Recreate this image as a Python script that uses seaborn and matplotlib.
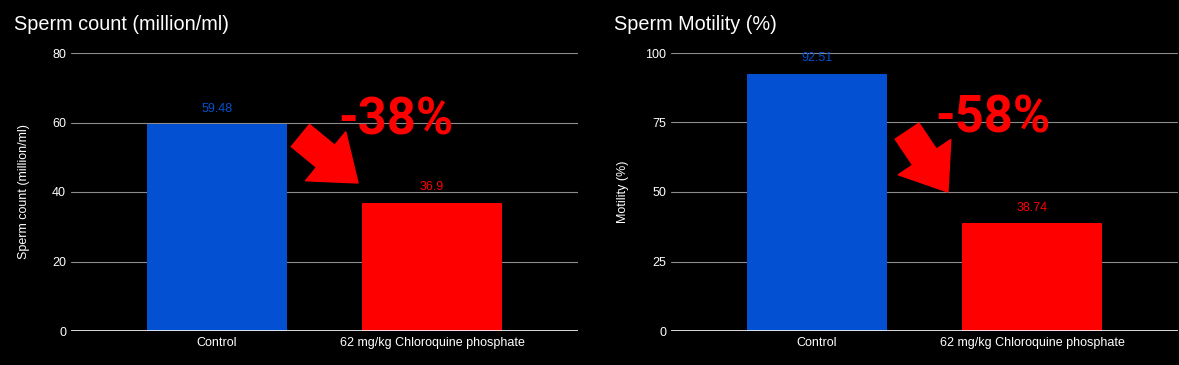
import seaborn as sns
import pandas as pd
import numpy as np
import matplotlib
matplotlib.use("Agg")
import matplotlib.pyplot as plt

# data
groups = ["Control", "62 mg/kg Chloroquine phosphate"]
count_vals = [59.48, 36.9]
motility_vals = [92.51, 38.74]
bar_colors = ["#0350d3", "#ff0000"]

sns.set_theme(style="dark")
plt.rcParams['font.family'] = ['Liberation Sans', 'DejaVu Sans']

fig = plt.figure(figsize=(11.79, 3.65), dpi=100, facecolor="black")


def draw_panel(ax, vals, ylabel, yticks, change, arrow_tail, arrow_tip, change_xy):
    df = pd.DataFrame({"group": groups, "value": vals})
    sns.barplot(data=df, x="group", y="value", hue="group", palette=bar_colors,
                width=0.651, saturation=1, legend=False, linewidth=0, ax=ax)
    ax.set_facecolor("black")
    ax.set_xlim(-0.679, 1.679)
    ax.set_ylim(0, yticks[-1])
    ax.set_yticks(yticks)
    for t in yticks[1:]:
        ax.axhline(t, color="#8c8c8c", lw=0.8, zorder=0)
    ax.axhline(0, color="white", lw=1.2, zorder=3)
    for s in ax.spines.values():
        s.set_visible(False)
    ax.grid(False)
    ax.tick_params(axis="y", colors="white", labelsize=9, length=0, pad=3.5)
    ax.tick_params(axis="x", colors="white", labelsize=9, length=0, pad=4)
    ax.set_xlabel("")
    ax.set_ylabel(ylabel, color="white", fontsize=9)
    # value labels
    for cont, c in zip(ax.containers, bar_colors):
        ax.bar_label(cont, labels=[f"{v:g}" for v in cont.datavalues],
                     color=c, fontsize=9, padding=7)
    # big arrow + percent change
    ax.annotate("", xy=arrow_tip, xytext=arrow_tail,
                arrowprops=dict(arrowstyle="simple,head_length=1.26,head_width=1.9,tail_width=0.86",
                                color="#ff0000", mutation_scale=24, shrinkA=0, shrinkB=0))
    ax.text(change_xy[0], change_xy[1], change, color="#ff0000", fontsize=36.5,
            fontweight="bold", ha="center", va="center",
            family=["Roboto", "DejaVu Sans"])


ax1 = fig.add_axes([71 / 1179, 34 / 365, 507 / 1179, 278 / 365])
draw_panel(ax1, count_vals, "Sperm count (million/ml)",
           [0, 20, 40, 60, 80], "-38%", (0.388, 56.25), (0.656, 42.6), (0.83, 60.7))
ax1.yaxis.set_label_coords(-0.081, 0.5)

ax2 = fig.add_axes([671 / 1179, 34 / 365, 507 / 1179, 278 / 365])
draw_panel(ax2, motility_vals, "Motility (%)",
           [0, 25, 50, 75, 100], "-58%", (0.419, 71.9), (0.609, 50.0), (0.82, 76.6))
ax2.yaxis.set_label_coords(-0.083, 0.5)

fig.text(14 / 1179, 1 - 25 / 365, "Sperm count (million/ml)", color="white",
         fontsize=14.3, va="center", ha="left")
fig.text(614 / 1179, 1 - 25 / 365, "Sperm Motility (%)", color="white",
         fontsize=14.3, va="center", ha="left")

fig.savefig("out.png", dpi=100, facecolor="black")
